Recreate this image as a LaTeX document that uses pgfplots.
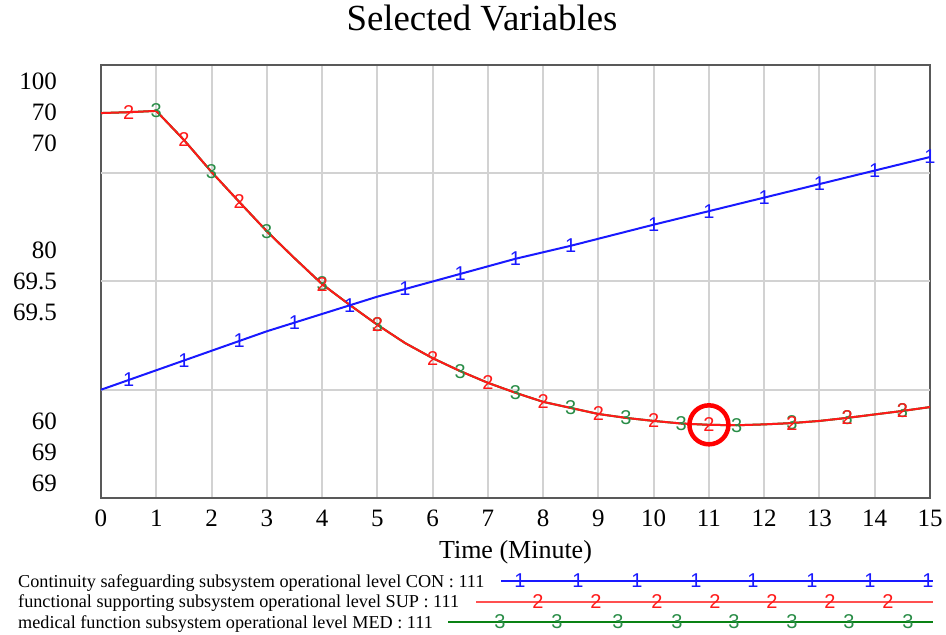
\documentclass[border=0pt]{standalone}
\usepackage{fontspec}
\setmainfont{Liberation Serif}
\setsansfont{Liberation Sans}
\usepackage{pgfplots}
\pgfplotsset{compat=1.18}
\definecolor{conblue}{RGB}{25,25,255}
\definecolor{supred}{RGB}{255,25,25}
\definecolor{legred}{RGB}{255,80,80}
\definecolor{medgreen}{RGB}{10,130,20}
\definecolor{mkgreen}{RGB}{40,140,70}
\definecolor{gridgray}{RGB}{210,210,210}
\pgfplotsset{
  mk/.style={only marks, mark=text, text mark as node=true, text mark={#1}},
}
\begin{document}
\begin{tikzpicture}
\useasboundingbox (0,0) rectangle (946pt,635pt);
% ---------------- SUP / MED axis (69..70), draws frame, grid, labels
\begin{axis}[
  at={(101pt,137pt)}, anchor=south west, scale only axis,
  width=829pt, height=433pt,
  xmin=0, xmax=15, ymin=69, ymax=70,
  clip=false,
  xtick={0,1,...,15}, xmajorgrids,
  ytick={69.0346,69.1062,69.1778,69.4296,69.5012,69.5727,69.8199,69.8915,69.9630},
  yticklabels={69,69,60,69.5,69.5,80,70,70,100},
  ymajorgrids=false,
  extra y ticks={69.25,69.5,69.75}, extra y tick labels={},
  extra y tick style={grid=major},
  major tick length=0pt,
  grid style={draw=gridgray, line width=2pt},
  axis line style={draw=black!65, line width=2pt},
  /pgf/number format/assume math mode=true,
  tick label style={font=\fontsize{25}{25}\selectfont},
  xticklabel style={inner sep=0pt, anchor=north, yshift=-12pt},
  yticklabel style={inner sep=0pt, anchor=east, xshift=-44pt},
  xlabel={Time (Minute)},
  xlabel style={at={(axis description cs:0.5,0)}, anchor=north, yshift=-42pt, inner sep=0pt, font=\fontsize{26}{26}\selectfont},
  title={Selected Variables},
  title style={at={(axis description cs:0.4596,1)}, anchor=base, yshift=28pt, inner sep=0pt, font=\fontsize{36.8}{36.8}\selectfont},
]
% MED (hidden under SUP)
\addplot[medgreen, line width=2pt, mark=none] coordinates {
 (0,69.889) (0.5,69.891) (1,69.894) (1.5,69.827) (2,69.753) (2.5,69.684) (3,69.616) (3.5,69.554)
 (4,69.494) (4.5,69.446) (5,69.400) (5.5,69.358) (6,69.323) (6.5,69.293) (7,69.266) (7.5,69.243)
 (8,69.222) (8.5,69.208) (9,69.194) (9.5,69.185) (10,69.178) (10.5,69.172) (11,69.169) (11.5,69.168)
 (12,69.170) (12.5,69.173) (13,69.178) (13.5,69.185) (14,69.193) (14.5,69.201) (15,69.210)};
\addplot[mk=3, text mark style={font=\fontsize{20}{20}\sffamily, text=mkgreen, inner sep=0pt}] coordinates {
 (1,69.894) (2,69.753) (3,69.616) (4,69.494) (5,69.400) (6.5,69.293) (7.5,69.243) (8.5,69.208)
 (9.5,69.185) (10.5,69.172) (11.5,69.168) (12.5,69.173) (13.5,69.185) (14.5,69.201)};
% SUP
\addplot[supred, line width=2pt, mark=none] coordinates {
 (0,69.889) (0.5,69.891) (1,69.894) (1.5,69.827) (2,69.753) (2.5,69.684) (3,69.616) (3.5,69.554)
 (4,69.494) (4.5,69.446) (5,69.400) (5.5,69.358) (6,69.323) (6.5,69.293) (7,69.266) (7.5,69.243)
 (8,69.222) (8.5,69.208) (9,69.194) (9.5,69.185) (10,69.178) (10.5,69.172) (11,69.169) (11.5,69.168)
 (12,69.170) (12.5,69.173) (13,69.178) (13.5,69.185) (14,69.193) (14.5,69.201) (15,69.210)};
\addplot[mk=2, text mark style={font=\fontsize{20}{20}\sffamily, text=supred, inner sep=0pt}] coordinates {
 (0.5,69.891) (1.5,69.827) (2.5,69.684) (4,69.494) (5,69.400) (6,69.323) (7,69.266) (8,69.222)
 (9,69.194) (10,69.178) (11,69.169) (12.5,69.173) (13.5,69.185) (14.5,69.201)};
% highlight circle
\addplot[only marks, mark=o, mark size=19.5pt, mark options={draw=red, line width=4.5pt}] coordinates {(11,69.169)};
\end{axis}
% ---------------- CON axis (60..100)
\begin{axis}[
  at={(101pt,137pt)}, anchor=south west, scale only axis,
  width=829pt, height=433pt,
  xmin=0, xmax=15, ymin=60, ymax=100,
  hide axis, clip=false,
]
\addplot[conblue, line width=2pt, mark=none] coordinates {
 (0,70.0) (0.5,70.9) (1,71.8) (1.5,72.7) (2,73.6) (2.5,74.5) (3,75.4) (3.5,76.2) (4,77.0)
 (4.5,77.8) (5,78.6) (5.5,79.3) (6,80.0) (6.5,80.7) (7,81.4) (7.5,82.1) (8,82.7) (8.5,83.3)
 (9,83.95) (9.5,84.6) (10,85.25) (11,86.5) (12,87.75) (13,89.0) (14,90.25) (15,91.5)};
\addplot[mk=1, text mark style={font=\fontsize{20}{20}\sffamily, text=conblue, inner sep=0pt}] coordinates {
 (0.5,70.9) (1.5,72.7) (2.5,74.5) (3.5,76.2) (4.5,77.8) (5.5,79.3) (6.5,80.7) (7.5,82.1) (8.5,83.3)
 (10,85.25) (11,86.5) (12,87.75) (13,89.0) (14,90.25) (15,91.5)};
\end{axis}
% ---------------- legend (pixel coordinates, y from top)
\begin{axis}[
  at={(0pt,0pt)}, anchor=south west, scale only axis,
  width=946pt, height=635pt,
  xmin=0, xmax=946, ymin=0, ymax=635, y dir=reverse,
  hide axis, clip=false,
]
\addplot[conblue, line width=2pt, mark=none] coordinates {(501,581) (933,581)};
\addplot[mk=1, text mark style={font=\fontsize{20}{20}\sffamily, text=conblue, inner sep=0pt}] coordinates {
 (520,581) (578,581) (637,581) (696,581) (753,581) (812,581) (870,581) (928,581)};
\addplot[legred, line width=2pt, mark=none] coordinates {(476,601.5) (933,601.5)};
\addplot[mk=2, text mark style={font=\fontsize{20}{20}\sffamily, text=supred, inner sep=0pt}] coordinates {
 (538,601.5) (596,601.5) (657,601.5) (715,601.5) (772,601.5) (830,601.5) (888,601.5)};
\addplot[medgreen, line width=2pt, mark=none] coordinates {(448,622) (933,622)};
\addplot[mk=3, text mark style={font=\fontsize{20}{20}\sffamily, text=mkgreen, inner sep=0pt}] coordinates {
 (500,622) (557,622) (618,622) (677,622) (734,622) (792,622) (849,622) (908,622)};
\node[anchor=base west, inner sep=0pt, font=\fontsize{18.2}{18.2}\selectfont] at (axis cs:18,587) {Continuity safeguarding subsystem operational level CON : 111};
\node[anchor=base west, inner sep=0pt, font=\fontsize{18.2}{18.2}\selectfont] at (axis cs:18,607.5) {functional supporting subsystem operational level SUP : 111};
\node[anchor=base west, inner sep=0pt, font=\fontsize{18.2}{18.2}\selectfont] at (axis cs:18,628) {medical function subsystem operational level MED : 111};
\end{axis}
\end{tikzpicture}
\end{document}
